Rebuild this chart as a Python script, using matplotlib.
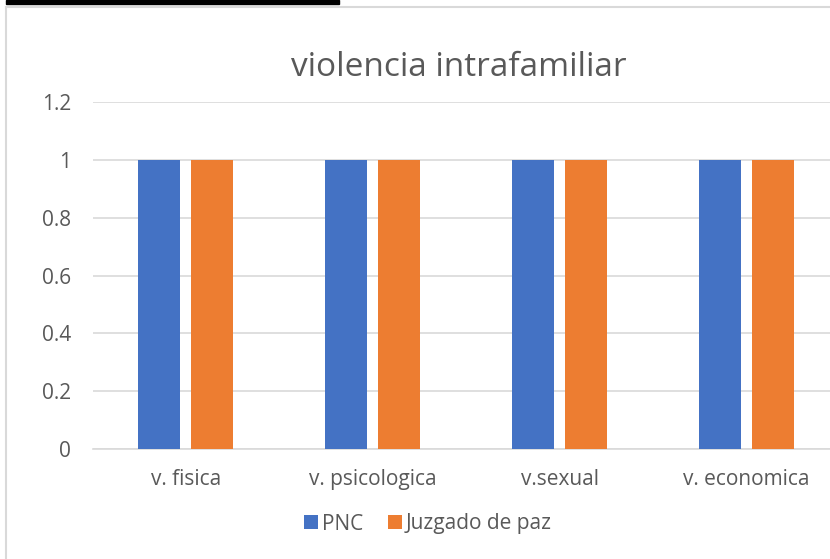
import matplotlib
matplotlib.use("Agg")
import matplotlib.pyplot as plt
import numpy as np
from matplotlib.patches import Rectangle
from matplotlib.lines import Line2D

categories = ["v. fisica", "v. psicologica", "v.sexual", "v. economica"]
pnc = [1, 1, 1, 1]
juzgado = [1, 1, 1, 1]
series_names = ["PNC", "Juzgado de paz"]
yticks = [0, 0.2, 0.4, 0.6, 0.8, 1.0, 1.2]
ytick_labels = ["0", "0.2", "0.4", "0.6", "0.8", "1", "1.2"]

W, H = 830, 559
fig = plt.figure(figsize=(W / 100, H / 100), dpi=100)
plt.rcParams['font.family'] = ['Open Sans', 'DejaVu Sans']

def fx(px):
    return px / W

def fy(py):
    return 1 - py / H

# axes: x from 92.5 to 840 px, y from 102 (1.2) to 449 (0)
ax = fig.add_axes([fx(92.5), fy(449), fx(840) - fx(92.5), fy(102) - fy(449)])
x = np.arange(len(categories))
bw = 0.225
off = (0.225 + 0.059) / 2
ax.bar(x - off, pnc, bw, color="#4472C4", label=series_names[0], zorder=3)
ax.bar(x + off, juzgado, bw, color="#ED7D31", label=series_names[1], zorder=3)
ax.set_xlim(-0.5, len(categories) - 0.5)
ax.set_ylim(0, 1.2)
ax.set_yticks(yticks)
ax.set_yticklabels(ytick_labels)
ax.set_xticks(x)
ax.set_xticklabels(categories)
ax.grid(axis="y", color="#D9D9D9", linewidth=1.2, zorder=0)
for s in ["top", "right", "left"]:
    ax.spines[s].set_visible(False)
ax.spines["bottom"].set_color("#D9D9D9")
ax.spines["bottom"].set_linewidth(1.2)
ax.tick_params(axis="both", length=0, colors="#595959", labelsize=15)
ax.tick_params(axis="y", pad=15.5)
ax.tick_params(axis="x", pad=14.5)

fig.text(fx(459), fy(68), "violencia intrafamiliar", ha="center", va="center",
         fontsize=24, color="#595959")

handles, labels = ax.get_legend_handles_labels()
leg = fig.legend(handles, labels, loc="center", bbox_to_anchor=(fx(428), fy(524)),
                 ncol=2, frameon=False, fontsize=15, handlelength=0.65,
                 handleheight=0.65, handletextpad=0.2, columnspacing=1.2)
for t in leg.get_texts():
    t.set_color("#595959")

# chart border and black bar
fig.add_artist(Line2D([fx(5.5), fx(5.5)], [fy(7), fy(559)], color="#D9D9D9", linewidth=1.5))
fig.add_artist(Line2D([fx(5.5), fx(830)], [fy(7), fy(7)], color="#D9D9D9", linewidth=1.5))
fig.add_artist(Rectangle((fx(6), fy(3.5)), fx(339) - fx(6), fy(0) - fy(3.5),
                         color="black", transform=fig.transFigure))

fig.savefig("out.png", dpi=100)
